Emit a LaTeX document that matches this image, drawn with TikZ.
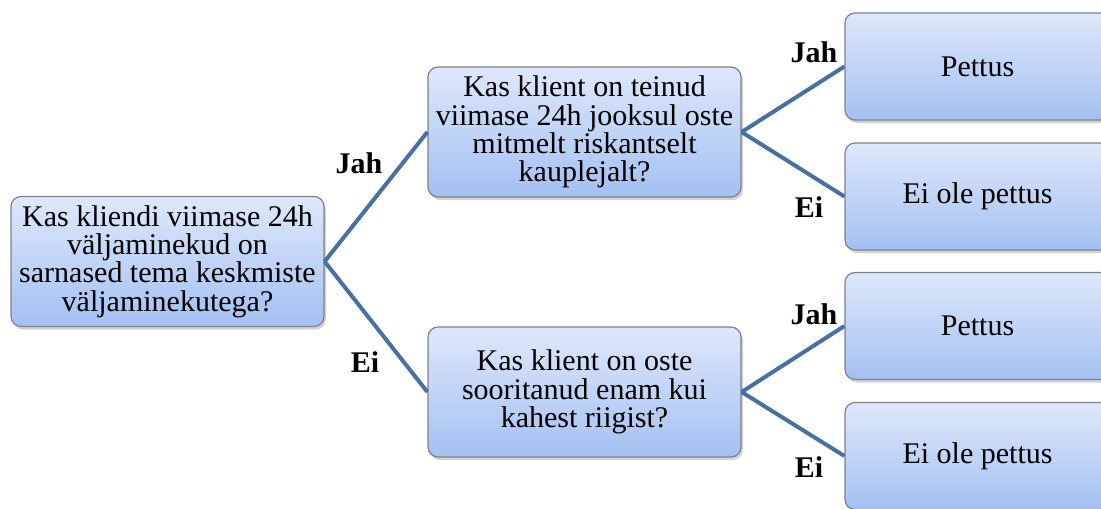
\documentclass[tikz,border=0pt]{standalone}
\usepackage{fontspec}
\setmainfont{Liberation Serif}
\usetikzlibrary{shadows}

\begin{document}
\begin{tikzpicture}[x=0.5pt, y=-0.5pt,
        every node/.style={font=\rmfamily\fontsize{15}{14.2}\selectfont},
        qbox/.style={draw=boxedge, line width=0.6pt, rounded corners=5pt,
            top color=boxtop, bottom color=boxbot, align=center, inner sep=1pt,
            drop shadow={opacity=0.35, shadow xshift=1pt, shadow yshift=-1.5pt}},
        ans/.style={qbox, minimum width=132.5pt, minimum height=53.5pt},
        branch/.style={draw=linkblue, line width=2pt},
        lbl/.style={font=\rmfamily\fontsize{15}{14}\selectfont\bfseries}]
        \definecolor{boxtop}{RGB}{222,232,251}
        \definecolor{boxbot}{RGB}{163,192,242}
        \definecolor{boxedge}{RGB}{125,130,140}
        \definecolor{linkblue}{RGB}{72,112,165}

        \clip (0,0) rectangle (1101,508);
        \fill[white] (0,0) rectangle (1101,508);

        % Question boxes
        \node[qbox, minimum width=156.5pt, minimum height=65pt] (root) at (167.5,261.5)
            {Kas kliendi viimase 24h\\väljaminekud on\\sarnased tema keskmiste\\väljaminekutega?};
        \node[qbox, minimum width=156.5pt, minimum height=65pt] (q1) at (584.5,132)
            {Kas klient on teinud\\viimase 24h jooksul oste\\mitmelt riskantselt\\kauplejalt?};
        \node[qbox, minimum width=156.5pt, minimum height=65pt] (q2) at (584.5,392)
            {Kas klient on oste\\sooritanud enam kui\\kahest riigist?};

        % Answer boxes
        \node[ans] (r1) at (977.5,66.5) {Pettus};
        \node[ans] (r2) at (977.5,196.5) {Ei ole pettus};
        \node[ans] (r3) at (977.5,326) {Pettus};
        \node[ans] (r4) at (977.5,456) {Ei ole pettus};

        % Branches
        \draw[branch] (root.east) -- (q1.west);
        \draw[branch] (root.east) -- (q2.west);
        \draw[branch] (q1.east) -- (r1.west);
        \draw[branch] (q1.east) -- (r2.west);
        \draw[branch] (q2.east) -- (r3.west);
        \draw[branch] (q2.east) -- (r4.west);

        % Branch labels
        \node[lbl] (l1) at (359,163) {Jah};
        \node[lbl] (l2) at (365,362) {Ei};
        \node[lbl] (l3) at (814,52) {Jah};
        \node[lbl] (l4) at (809,207) {Ei};
        \node[lbl] (l5) at (814,314) {Jah};
        \node[lbl] (l6) at (809,467) {Ei};
    \end{tikzpicture}
\end{document}
